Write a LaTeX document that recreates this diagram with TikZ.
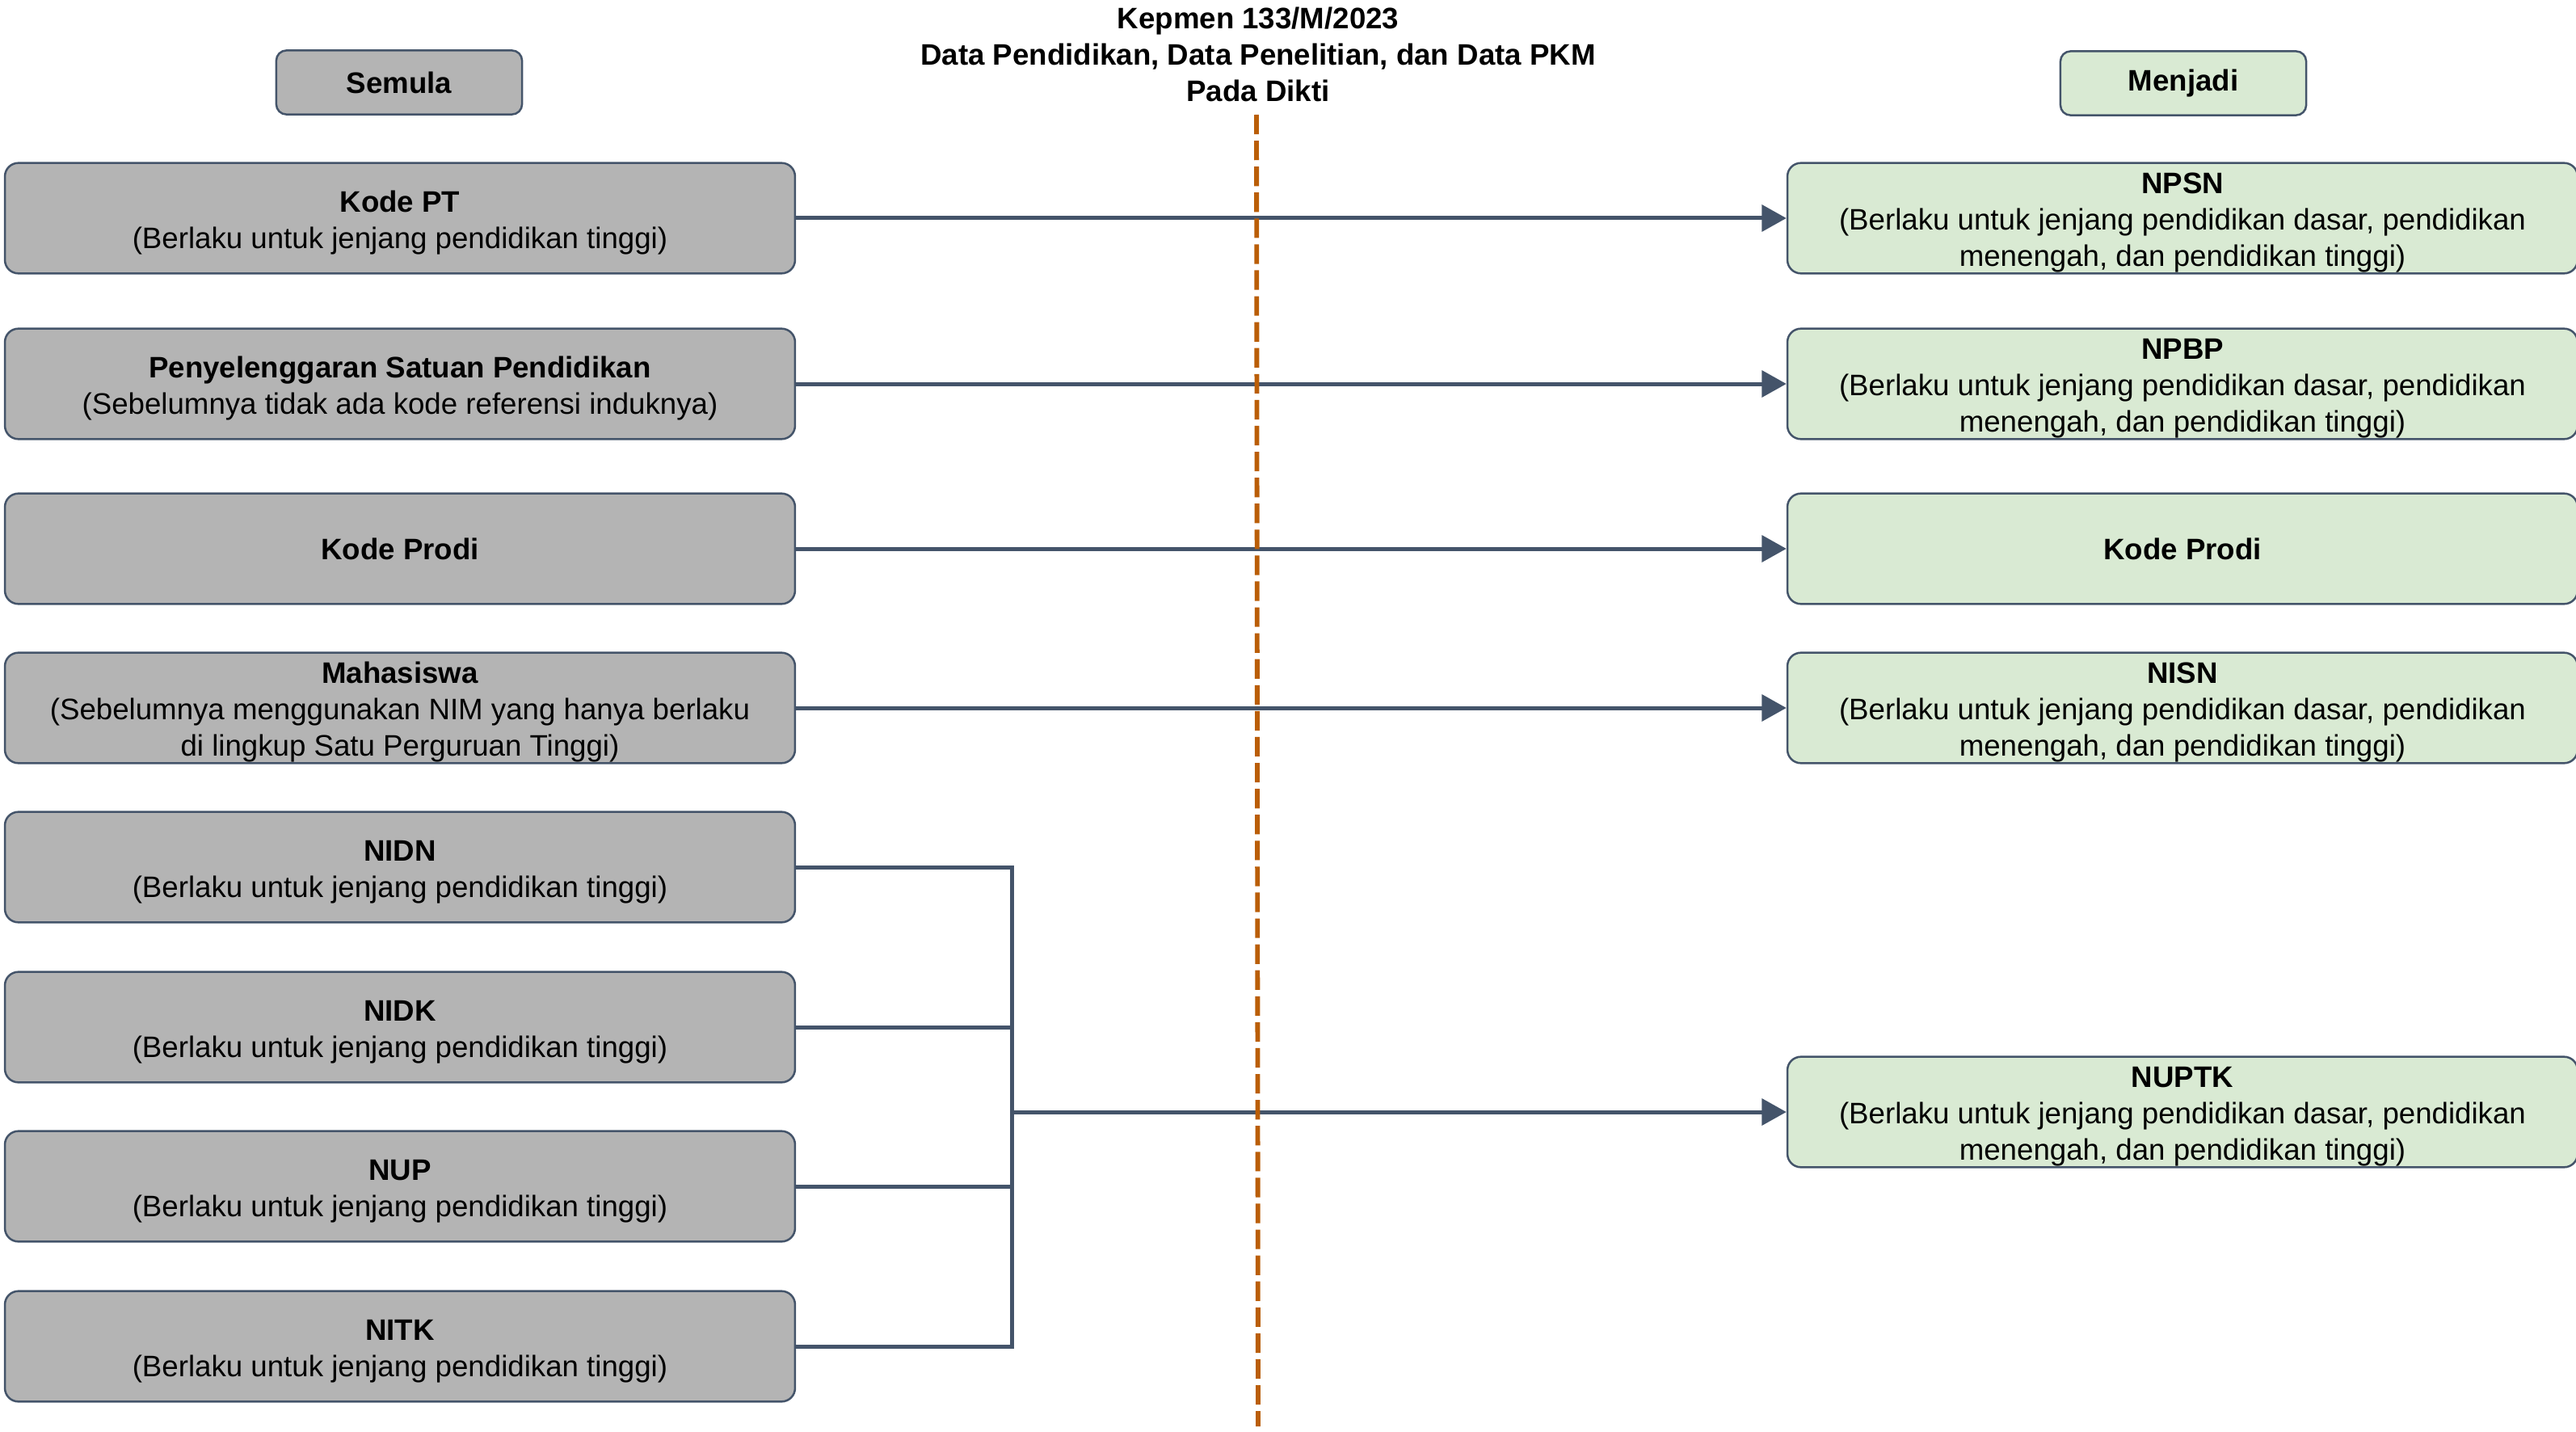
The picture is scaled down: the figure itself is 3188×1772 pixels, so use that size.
\documentclass[tikz,border=0pt]{standalone}
\usepackage{fontspec}
\setmainfont{Liberation Sans}
\usetikzlibrary{arrows.meta}
\definecolor{edge}{HTML}{44546A}
\definecolor{graybox}{HTML}{B4B4B4}
\definecolor{greenbox}{HTML}{D9EAD3}
\definecolor{divider}{HTML}{BA5E08}
\newcommand{\hd}[1]{\rule{0pt}{8.8pt}\textbf{#1}}
\begin{document}
\begin{tikzpicture}[x=0.24pt,y=-0.24pt,
  txt/.style={font=\fontsize{8.8}{10.8}\selectfont, align=center},
  basebox/.style={txt, draw=edge, line width=0.6pt, rounded corners=4pt, inner sep=0pt,
    minimum width=234.7pt, minimum height=32.8pt},
  oldbox/.style={basebox, fill=graybox},
  newbox/.style={basebox, fill=greenbox},
  headbox/.style={txt, draw=edge, line width=0.6pt, rounded corners=3pt, inner sep=0pt,
    minimum width=73pt, minimum height=19pt},
  conn/.style={draw=edge, line width=1.2pt},
  link/.style={conn, -{Triangle[length=7.3pt,width=7.8pt]}},
  divline/.style={draw=divider, line width=1.4pt, dash pattern=on 5.8pt off 1.9pt}
]
\useasboundingbox (0,0) rectangle (3188,1772);

% title
\node[txt, font=\fontsize{8.8}{10.8}\selectfont\bfseries] (title) at (1557,67)
  {Kepmen 133/M/2023\\Data Pendidikan, Data Penelitian, dan Data PKM\\Pada Dikti};

% headers
\node[headbox, fill=graybox, font=\fontsize{8.8}{10.8}\selectfont\bfseries] (semula) at (494,102) {Semula};
\node[headbox, fill=greenbox, font=\fontsize{8.8}{10.8}\selectfont\bfseries] (menjadi) at (2702,103) {Menjadi};

% left boxes
\node[oldbox] (kodept) at (495,270) {\hd{Kode PT}\\(Berlaku untuk jenjang pendidikan tinggi)};
\node[oldbox] (psp) at (495,475) {\hd{Penyelenggaran Satuan Pendidikan}\\(Sebelumnya tidak ada kode referensi induknya)};
\node[oldbox] (prodiL) at (495,679) {\textbf{Kode Prodi}};
\node[oldbox] (mhs) at (495,876) {\hd{Mahasiswa}\\(Sebelumnya menggunakan NIM yang hanya berlaku\\di lingkup Satu Perguruan Tinggi)};
\node[oldbox] (nidn) at (495,1073) {\hd{NIDN}\\(Berlaku untuk jenjang pendidikan tinggi)};
\node[oldbox] (nidk) at (495,1271) {\hd{NIDK}\\(Berlaku untuk jenjang pendidikan tinggi)};
\node[oldbox] (nup) at (495,1468) {\hd{NUP}\\(Berlaku untuk jenjang pendidikan tinggi)};
\node[oldbox] (nitk) at (495,1666) {\hd{NITK}\\(Berlaku untuk jenjang pendidikan tinggi)};

% right boxes
\node[newbox] (npsn) at (2701,270) {\hd{NPSN}\\(Berlaku untuk jenjang pendidikan dasar, pendidikan\\menengah, dan pendidikan tinggi)};
\node[newbox] (npbp) at (2701,475) {\hd{NPBP}\\(Berlaku untuk jenjang pendidikan dasar, pendidikan\\menengah, dan pendidikan tinggi)};
\node[newbox] (prodiR) at (2701,679) {\textbf{Kode Prodi}};
\node[newbox] (nisn) at (2701,876) {\hd{NISN}\\(Berlaku untuk jenjang pendidikan dasar, pendidikan\\menengah, dan pendidikan tinggi)};
\node[newbox] (nuptk) at (2701,1376) {\hd{NUPTK}\\(Berlaku untuk jenjang pendidikan dasar, pendidikan\\menengah, dan pendidikan tinggi)};

% arrows
\draw[link] (kodept.east) -- (npsn.west);
\draw[link] (psp.east) -- (npbp.west);
\draw[link] (prodiL.east) -- (prodiR.west);
\draw[link] (mhs.east) -- (nisn.west);

% bracket
\coordinate (jx) at (1252,0);
\draw[conn] (nidn.east) -- (nidn.east -| jx) -- (nitk.east -| jx) -- (nitk.east);
\draw[conn] (nidk.east) -- (nidk.east -| jx);
\draw[conn] (nup.east) -- (nup.east -| jx);
\coordinate (jmid) at (nuptk.west -| jx);
\draw[link] (jmid) -- (nuptk.west);

% divider
\coordinate (dtop) at (1555,142);
\coordinate (dbot) at (1557,1765);
\draw[divline] (dtop) -- (dbot);
\end{tikzpicture}
\end{document}
